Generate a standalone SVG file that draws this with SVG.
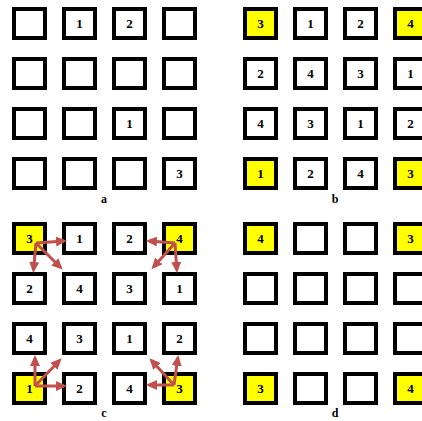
<svg xmlns="http://www.w3.org/2000/svg" width="422" height="421" viewBox="0 0 422 421">
<defs>
<style>
.b{fill:#fff;stroke:#000;stroke-width:4}
.y{fill:#ffff00;stroke:#000;stroke-width:4}
.t{font-family:"Liberation Serif",serif;font-weight:bold;font-size:13px;text-anchor:middle;fill:#000}
.l{font-family:"Liberation Serif",serif;font-weight:bold;font-size:12px;text-anchor:middle;fill:#000}
.c{stroke:#c0504d;stroke-width:3;fill:none;marker-end:url(#ah)}
</style>
<marker id="ah" markerUnits="userSpaceOnUse" markerWidth="11" markerHeight="10" refX="8" refY="5" orient="auto">
<path d="M0,0 L11,5 L0,10 z" fill="#c0504d"/>
</marker>
</defs>
<rect width="422" height="421" fill="#fff"/>
<!-- Panel a -->
<g id="panel-a">
<g id="a11"><rect class="b" x="14" y="9" width="31" height="29"/></g>
<g id="a12"><rect class="b" x="64" y="9" width="31" height="29"/><text class="t" x="79.5" y="28">1</text></g>
<g id="a13"><rect class="b" x="114" y="9" width="31" height="29"/><text class="t" x="129.5" y="28">2</text></g>
<g id="a14"><rect class="b" x="164" y="9" width="31" height="29"/></g>
<g id="a21"><rect class="b" x="14" y="59" width="31" height="29"/></g>
<g id="a22"><rect class="b" x="64" y="59" width="31" height="29"/></g>
<g id="a23"><rect class="b" x="114" y="59" width="31" height="29"/></g>
<g id="a24"><rect class="b" x="164" y="59" width="31" height="29"/></g>
<g id="a31"><rect class="b" x="14" y="109" width="31" height="29"/></g>
<g id="a32"><rect class="b" x="64" y="109" width="31" height="29"/></g>
<g id="a33"><rect class="b" x="114" y="109" width="31" height="29"/><text class="t" x="129.5" y="128">1</text></g>
<g id="a34"><rect class="b" x="164" y="109" width="31" height="29"/></g>
<g id="a41"><rect class="b" x="14" y="159" width="31" height="29"/></g>
<g id="a42"><rect class="b" x="64" y="159" width="31" height="29"/></g>
<g id="a43"><rect class="b" x="114" y="159" width="31" height="29"/></g>
<g id="a44"><rect class="b" x="164" y="159" width="31" height="29"/><text class="t" x="179.5" y="178">3</text></g>
<text class="l" x="104" y="203">a</text>
</g>
<!-- Panel b -->
<g id="panel-b">
<g id="b11"><rect class="y" x="245" y="9" width="31" height="29"/><text class="t" x="260.5" y="28">3</text></g>
<g id="b12"><rect class="b" x="295" y="9" width="31" height="29"/><text class="t" x="310.5" y="28">1</text></g>
<g id="b13"><rect class="b" x="345" y="9" width="31" height="29"/><text class="t" x="360.5" y="28">2</text></g>
<g id="b14"><rect class="y" x="395" y="9" width="31" height="29"/><text class="t" x="410.5" y="28">4</text></g>
<g id="b21"><rect class="b" x="245" y="59" width="31" height="29"/><text class="t" x="260.5" y="78">2</text></g>
<g id="b22"><rect class="b" x="295" y="59" width="31" height="29"/><text class="t" x="310.5" y="78">4</text></g>
<g id="b23"><rect class="b" x="345" y="59" width="31" height="29"/><text class="t" x="360.5" y="78">3</text></g>
<g id="b24"><rect class="b" x="395" y="59" width="31" height="29"/><text class="t" x="410.5" y="78">1</text></g>
<g id="b31"><rect class="b" x="245" y="109" width="31" height="29"/><text class="t" x="260.5" y="128">4</text></g>
<g id="b32"><rect class="b" x="295" y="109" width="31" height="29"/><text class="t" x="310.5" y="128">3</text></g>
<g id="b33"><rect class="b" x="345" y="109" width="31" height="29"/><text class="t" x="360.5" y="128">1</text></g>
<g id="b34"><rect class="b" x="395" y="109" width="31" height="29"/><text class="t" x="410.5" y="128">2</text></g>
<g id="b41"><rect class="y" x="245" y="159" width="31" height="29"/><text class="t" x="260.5" y="178">1</text></g>
<g id="b42"><rect class="b" x="295" y="159" width="31" height="29"/><text class="t" x="310.5" y="178">2</text></g>
<g id="b43"><rect class="b" x="345" y="159" width="31" height="29"/><text class="t" x="360.5" y="178">4</text></g>
<g id="b44"><rect class="y" x="395" y="159" width="31" height="29"/><text class="t" x="410.5" y="178">3</text></g>
<text class="l" x="335" y="203">b</text>
</g>
<!-- Panel c -->
<g id="panel-c">
<g id="c11"><rect class="y" x="14" y="224" width="31" height="29"/><text class="t" x="29.5" y="243">3</text></g>
<g id="c12"><rect class="b" x="64" y="224" width="31" height="29"/><text class="t" x="79.5" y="243">1</text></g>
<g id="c13"><rect class="b" x="114" y="224" width="31" height="29"/><text class="t" x="129.5" y="243">2</text></g>
<g id="c14"><rect class="y" x="164" y="224" width="31" height="29"/><text class="t" x="179.5" y="243">4</text></g>
<g id="c21"><rect class="b" x="14" y="274" width="31" height="29"/><text class="t" x="29.5" y="293">2</text></g>
<g id="c22"><rect class="b" x="64" y="274" width="31" height="29"/><text class="t" x="79.5" y="293">4</text></g>
<g id="c23"><rect class="b" x="114" y="274" width="31" height="29"/><text class="t" x="129.5" y="293">3</text></g>
<g id="c24"><rect class="b" x="164" y="274" width="31" height="29"/><text class="t" x="179.5" y="293">1</text></g>
<g id="c31"><rect class="b" x="14" y="324" width="31" height="29"/><text class="t" x="29.5" y="343">4</text></g>
<g id="c32"><rect class="b" x="64" y="324" width="31" height="29"/><text class="t" x="79.5" y="343">3</text></g>
<g id="c33"><rect class="b" x="114" y="324" width="31" height="29"/><text class="t" x="129.5" y="343">1</text></g>
<g id="c34"><rect class="b" x="164" y="324" width="31" height="29"/><text class="t" x="179.5" y="343">2</text></g>
<g id="c41"><rect class="y" x="14" y="374" width="31" height="29"/><text class="t" x="29.5" y="393">1</text></g>
<g id="c42"><rect class="b" x="64" y="374" width="31" height="29"/><text class="t" x="79.5" y="393">2</text></g>
<g id="c43"><rect class="b" x="114" y="374" width="31" height="29"/><text class="t" x="129.5" y="393">4</text></g>
<g id="c44"><rect class="y" x="164" y="374" width="31" height="29"/><text class="t" x="179.5" y="393">3</text></g>
<text class="l" x="104" y="417">c</text>
</g>
<!-- Panel d -->
<g id="panel-d">
<g id="d11"><rect class="y" x="245" y="224" width="31" height="29"/><text class="t" x="260.5" y="243">4</text></g>
<g id="d12"><rect class="b" x="295" y="224" width="31" height="29"/></g>
<g id="d13"><rect class="b" x="345" y="224" width="31" height="29"/></g>
<g id="d14"><rect class="y" x="395" y="224" width="31" height="29"/><text class="t" x="410.5" y="243">3</text></g>
<g id="d21"><rect class="b" x="245" y="274" width="31" height="29"/></g>
<g id="d22"><rect class="b" x="295" y="274" width="31" height="29"/></g>
<g id="d23"><rect class="b" x="345" y="274" width="31" height="29"/></g>
<g id="d24"><rect class="b" x="395" y="274" width="31" height="29"/></g>
<g id="d31"><rect class="b" x="245" y="324" width="31" height="29"/></g>
<g id="d32"><rect class="b" x="295" y="324" width="31" height="29"/></g>
<g id="d33"><rect class="b" x="345" y="324" width="31" height="29"/></g>
<g id="d34"><rect class="b" x="395" y="324" width="31" height="29"/></g>
<g id="d41"><rect class="y" x="245" y="374" width="31" height="29"/><text class="t" x="260.5" y="393">3</text></g>
<g id="d42"><rect class="b" x="295" y="374" width="31" height="29"/></g>
<g id="d43"><rect class="b" x="345" y="374" width="31" height="29"/></g>
<g id="d44"><rect class="y" x="395" y="374" width="31" height="29"/><text class="t" x="410.5" y="393">4</text></g>
<text class="l" x="335" y="417">d</text>
</g>
<!-- Connectors -->
<g id="connectors">
<line class="c" x1="36" y1="243" x2="64" y2="241"/>
<line class="c" x1="36" y1="243" x2="33.5" y2="270"/>
<line class="c" x1="36" y1="243" x2="60.5" y2="267.5"/>
<line class="c" x1="175" y1="243" x2="149" y2="241"/>
<line class="c" x1="175" y1="243" x2="153.5" y2="267"/>
<line class="c" x1="175" y1="243" x2="176.8" y2="270"/>
<line class="c" x1="35" y1="386" x2="35" y2="358"/>
<line class="c" x1="35" y1="386" x2="59.5" y2="360.5"/>
<line class="c" x1="35" y1="386" x2="64" y2="386"/>
<line class="c" x1="174" y1="385" x2="177.8" y2="358"/>
<line class="c" x1="174" y1="385" x2="151.5" y2="360.5"/>
<line class="c" x1="174" y1="385" x2="149" y2="385"/>
</g>
</svg>
